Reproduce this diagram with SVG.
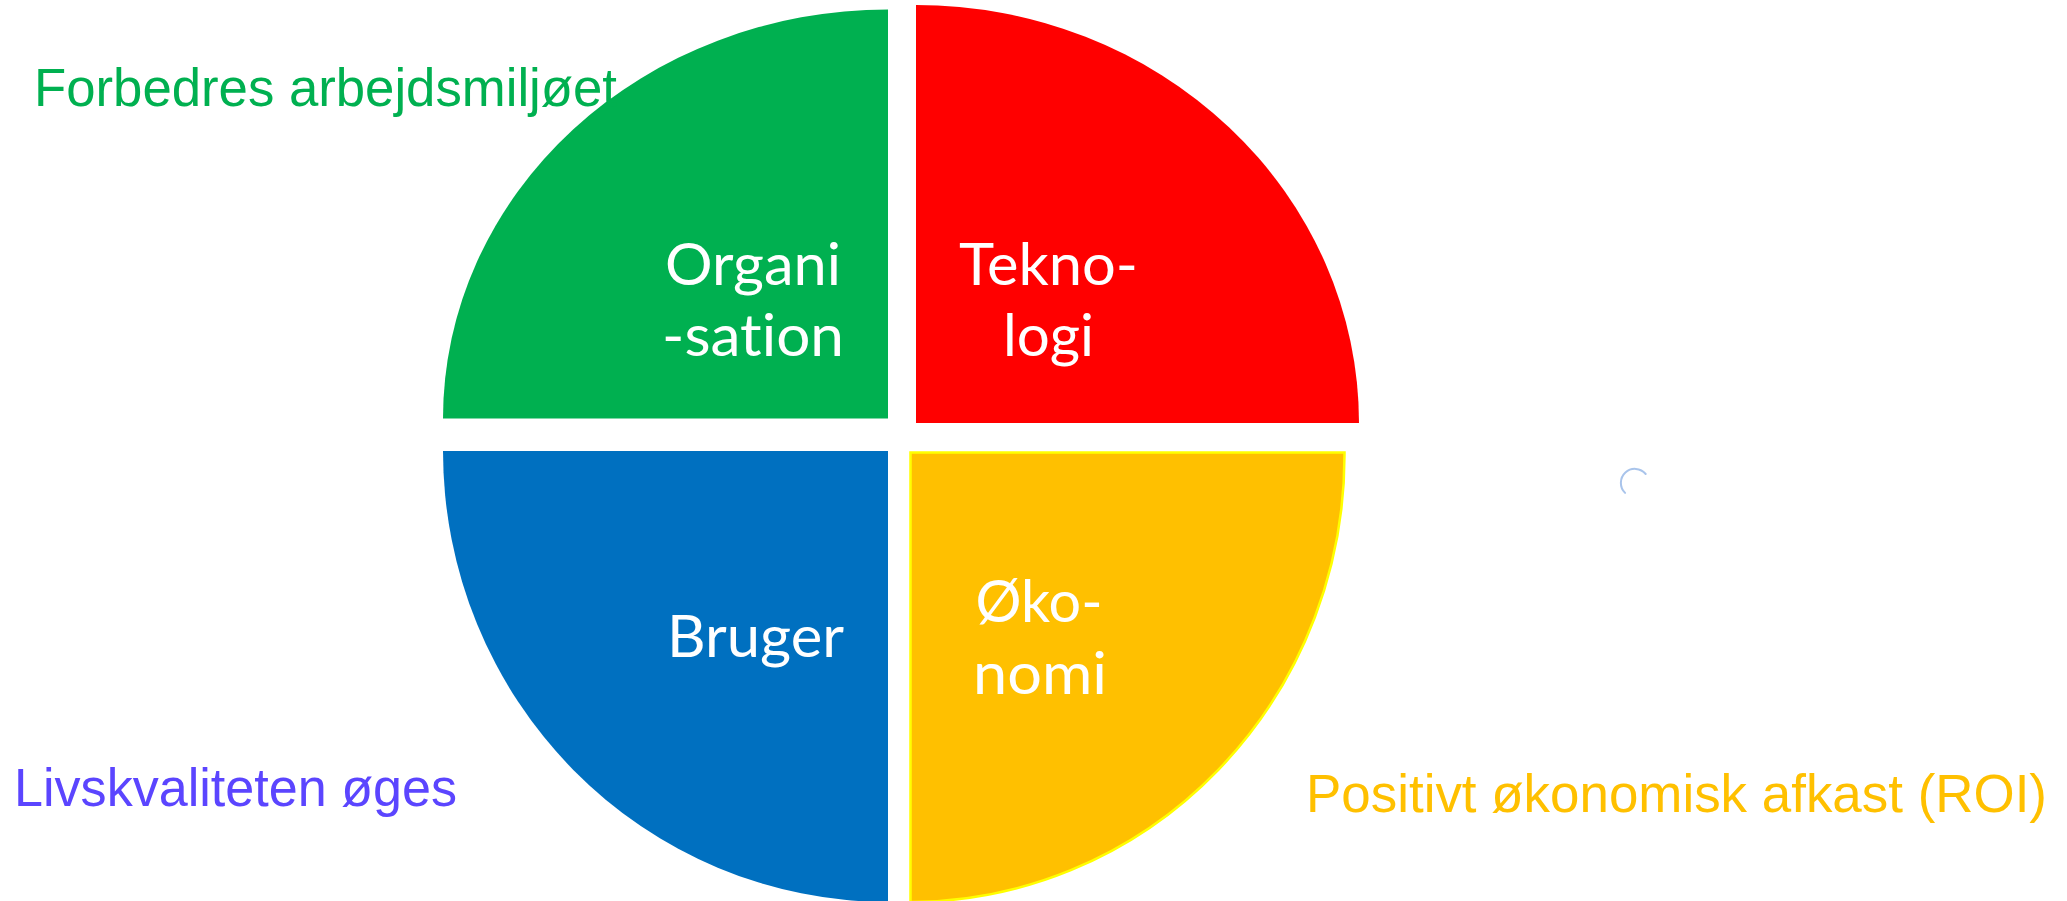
<svg xmlns="http://www.w3.org/2000/svg" width="2067" height="901" viewBox="0 0 2067 901">
  <style>
    .inner { font-family: Lato, "Open Sans", "Liberation Sans", sans-serif; font-size: 58px; fill: #FFFFFF; text-anchor: middle; font-variant-ligatures: none; }
    .outer { font-family: "Liberation Sans", Arial, sans-serif; font-size: 54px; font-variant-ligatures: none; }
  </style>
  <rect x="0" y="0" width="2067" height="901" fill="#FFFFFF"/>

  <g id="node-organisation">
    <path d="M 443 418.5 A 445 409 0 0 1 888 9.5 L 888 418.5 Z" fill="#00B050"/>
    <text class="inner" x="753" y="285" textLength="176" lengthAdjust="spacingAndGlyphs">Organi</text>
    <text class="inner" x="753" y="356" textLength="182" lengthAdjust="spacingAndGlyphs">-sation</text>
  </g>

  <g id="node-teknologi">
    <path d="M 916 5 A 443 418 0 0 1 1359 423 L 916 423 Z" fill="#FF0000"/>
    <text class="inner" x="1048.5" y="284.5" textLength="179" lengthAdjust="spacingAndGlyphs">Tekno-</text>
    <text class="inner" x="1048.5" y="356" textLength="91" lengthAdjust="spacingAndGlyphs">logi</text>
  </g>

  <g id="node-bruger">
    <path d="M 443 451 L 888 451 L 888 902 A 445 451 0 0 1 443 451 Z" fill="#0070C0"/>
    <text class="inner" x="755.5" y="657" textLength="177" lengthAdjust="spacingAndGlyphs">Bruger</text>
  </g>

  <g id="node-okonomi">
    <path d="M 910.5 452.5 L 1344.5 452.5 A 435 447 0 0 1 910.5 902 Z" fill="#FFC000" stroke="#FFFF00" stroke-width="2.5"/>
    <text class="inner" x="1039" y="621.7" textLength="127" lengthAdjust="spacingAndGlyphs">Øko-</text>
    <text class="inner" x="1040" y="694" textLength="134" lengthAdjust="spacingAndGlyphs">nomi</text>
  </g>

  <g id="label-arbejdsmiljo">
    <text class="outer" x="34" y="106" fill="#00B050" textLength="583" lengthAdjust="spacingAndGlyphs">Forbedres arbejdsmiljøet</text>
  </g>
  <g id="label-livskvalitet">
    <text class="outer" x="14" y="806" fill="#5B45FF" textLength="443" lengthAdjust="spacingAndGlyphs">Livskvaliteten øges</text>
  </g>
  <g id="label-roi">
    <text class="outer" x="1306" y="812.3" fill="#FFC000" textLength="741" lengthAdjust="spacingAndGlyphs">Positivt økonomisk afkast (ROI)</text>
  </g>

  <g id="connectors"></g>

  <g id="spinner">
    <path d="M 1625.1 492.9 A 14 14 0 1 1 1645.7 474" fill="none" stroke="#A9C4EB" stroke-width="2" stroke-linecap="round"/>
  </g>
</svg>
